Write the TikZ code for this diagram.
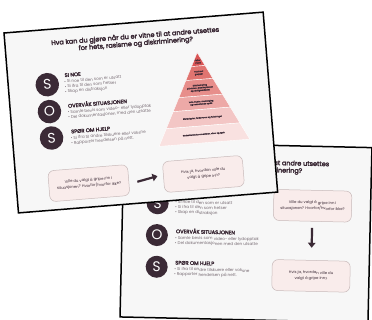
\documentclass[tikz,border=0pt]{standalone}
\usepackage{fontspec}
\setmainfont{Poppins}
\newfontfamily\tykk{Poppins}[FakeBold=3.6]
\usetikzlibrary{calc,arrows.meta}
\definecolor{flate}{HTML}{F7F7F7}
\definecolor{plomme}{HTML}{3B2A36}
\definecolor{rosa}{HTML}{F9ECEB}
\definecolor{kant}{HTML}{C8BABA}
\definecolor{lag1}{HTML}{D95555}
\definecolor{lag2}{HTML}{E07470}
\definecolor{lag3}{HTML}{E78E8B}
\definecolor{lag4}{HTML}{EDA9A7}
\definecolor{lag5}{HTML}{F3C6C5}
\definecolor{lag6}{HTML}{F9E1E0}
\def\fs#1{\fontsize{#1}{#1}\selectfont}
\def\overskrift#1{{\color{plomme}\tykk\fs{5.2}\,#1}\\[1pt]}
\tikzset{
	lysbilde/.style={fill=flate, draw=black, line width=1.5pt},
	tittel/.style={text=plomme, inner sep=0pt, align=center, font=\fontsize{6.5}{7.3}\selectfont\tykk},
	sirkel/.style={circle, fill=plomme, text=white, minimum size=23.5pt, inner sep=0pt, font=\fs{14}},
	gruppe/.style={anchor=west, align=left, text=plomme!70, inner sep=0pt, font=\fontsize{4.1}{5}\selectfont},
	boks/.style={rounded corners=6pt, fill=rosa, draw=kant, line width=0.5pt, minimum width=80pt, minimum height=31pt, inner sep=1pt, align=center, text=plomme, font=\fontsize{3.8}{5.8}\selectfont},
	pyrtekst/.style={text=plomme, inner sep=0pt, align=center, font=\fontsize{2}{2.6}\selectfont\tykk},
	pil/.style={line width=2.2pt, draw=plomme, -{Triangle[length=5pt, width=7.5pt]}}
}

\begin{document}
\begin{tikzpicture}[x=1pt, y=-1pt]
			%%%%% START %%%%%
			\useasboundingbox (0,0) rectangle (372,320);
			
			%% bakre lysbilde
			\begin{scope}[shift={(124,142)}, rotate=-1.3, transform shape]
			\draw[lysbilde] (0,0) rectangle (248,175);
			\node[tittel] (bt) at (121.5,21.5) {Hva kan du gjøre når du er vitne til at andre utsettes\\for hets, rasisme og diskriminering?};
			
			\node[sirkel, minimum size=22pt] (bs1) at (35,60.5) {S};
			\node[gruppe] (bg1) at (52.5,61) {\overskrift{SI NOE}• Si noe til den som er utsatt\\• Si ifra til den som hetser\\• Skap en distraksjon};
			
			\node[sirkel, minimum size=22pt] (bs2) at (35,92.3) {O};
			\node[gruppe] (bg2) at (53,93.5) {\overskrift{OVERVÅK SITUASJONEN}• Samle bevis som video- eller lydopptak\\• Del dokumentasjonen med den utsatte};
			
			\node[sirkel, minimum size=22pt] (bs3) at (35.5,124) {S};
			\node[gruppe] (bg3) at (53,125.5) {\overskrift{SPØR OM HJELP}• Si ifra til andre tilskuere eller voksne\\• Rapporter hendelsen på nett.};
			
			\node[boks, minimum width=78pt] (bq1) at (190,59.5) {Ville du valgt å gripe inn i\\situasjonen? Hvorfor/hvorfor ikke?};
			\node[boks, minimum width=78pt] (bq2) at (190,129.6) {Hvis ja, hvordan ville du\\valgt å gripe inn?};
			\draw[pil] (bq1) ++(0,22) coordinate (ba) -- ++(0,20) coordinate (bb);
			\end{scope}
			
			%% fremre lysbilde
			\begin{scope}[shift={(4,33)}, rotate=4.6, transform shape]
			\draw[lysbilde] (0,0) rectangle (260,180.5);
			\node[tittel] (t) at (130.5,17.8) {Hva kan du gjøre når du er vitne til at andre utsettes\\for hets, rasisme og diskriminering?};
			
			\node[sirkel] (s1) at (39,55) {S};
			\node[gruppe] (g1) at (56,55.5) {\overskrift{SI NOE}• Si noe til den som er utsatt\\• Si ifra til den som hetser\\• Skap en distraksjon};
			
			\node[sirkel] (s2) at (39,82) {O};
			\node[gruppe] (g2) at (57,83.2) {\overskrift{OVERVÅK SITUASJONEN}• Samle bevis som video- eller lydopptak\\• Del dokumentasjonen med den utsatte};
			
			\node[sirkel] (s3) at (39,108.5) {S};
			\node[gruppe] (g3) at (58,109.7) {\overskrift{SPØR OM HJELP}• Si ifra til andre tilskuere eller voksne\\• Rapporter hendelsen på nett.};
			
			%% pyramiden
			\foreach \ya/\yb/\farge in {35/48.5/lag1, 48.5/62/lag2, 62/78.5/lag3, 78.5/92/lag4, 92/108.5/lag5, 108.5/125.5/lag6} {
				\pgfmathsetmacro\wa{45.5*(\ya-35)/90.5}
				\pgfmathsetmacro\wb{45.5*(\yb-35)/90.5}
				\fill[\farge, draw=white, line width=0.4pt] (191-\wa,\ya) -- (191+\wa,\ya) -- (191+\wb,\yb) -- (191-\wb,\yb) -- cycle;
			}
			\node[pyrtekst] (l1) at (191,44) {Folke-\\mord};
			\node[pyrtekst] (l2) at (191,55.5) {Vold mot\\grupper};
			\node[pyrtekst] (l3) at (191,70.5) {Diskriminering\\på skolen, arbeidsplassen\\og i boligmarkedet};
			\node[pyrtekst] (l4) at (191,85.5) {Hets, trusler, utestenging\\og nedsettende språk};
			\node[pyrtekst] (l5) at (191,100.5) {Stereotypier, fordommer og holdninger};
			\node[pyrtekst] (l6) at (191,117) {Nedsettende kommentarer, vitser og spøk};
			
			\node[boks] (q1) at (72.5,156.5) {Ville du valgt å gripe inn i\\situasjonen? Hvorfor/hvorfor ikke?};
			\node[boks] (q2) at (187.5,156.5) {Hvis ja, hvordan ville du\\valgt å gripe inn?};
			\coordinate (pa) at (121,159);
			\coordinate (pb) at (141.5,155);
			\draw[pil] (pa) -- (pb);
			\end{scope}
			
			%%%%% END %%%%%
\end{tikzpicture}
\end{document}
